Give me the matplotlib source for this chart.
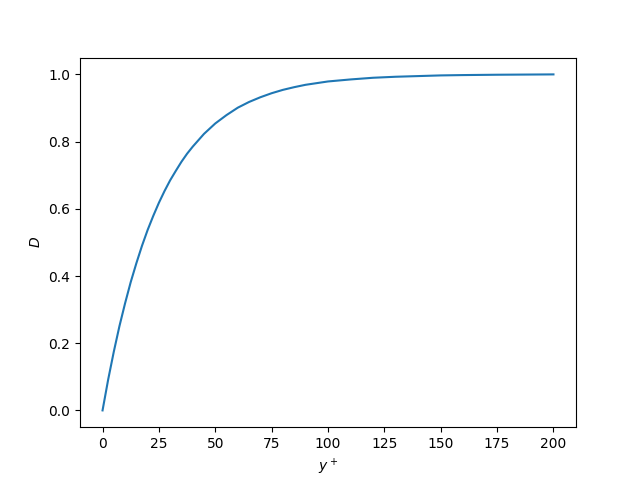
import matplotlib
matplotlib.use("Agg")
import matplotlib.pyplot as plt

y_plus = [0, 2.5, 5, 7.5, 10, 12.5, 15, 17.5, 20, 22.5, 25, 27.5, 30, 32.5, 35, 37.5, 40,
          45, 50, 55, 60, 65, 70, 75, 80, 85, 90, 95, 100, 110, 120, 130, 140, 150,
          160, 175, 200]
damping = [0.0, 0.092, 0.175, 0.251, 0.319, 0.382, 0.438, 0.490, 0.537, 0.579, 0.618,
           0.653, 0.685, 0.713, 0.740, 0.764, 0.785, 0.823, 0.854, 0.879, 0.901, 0.918,
           0.932, 0.944, 0.954, 0.962, 0.969, 0.974, 0.979, 0.985, 0.990, 0.993, 0.995,
           0.997, 0.998, 0.999, 1.000]

fig, ax = plt.subplots(figsize=(6.4, 4.8), dpi=100)
ax.plot(y_plus, damping)
ax.set_xlabel("$y^+$")
ax.set_ylabel("$D$")
fig.savefig("out.png")
